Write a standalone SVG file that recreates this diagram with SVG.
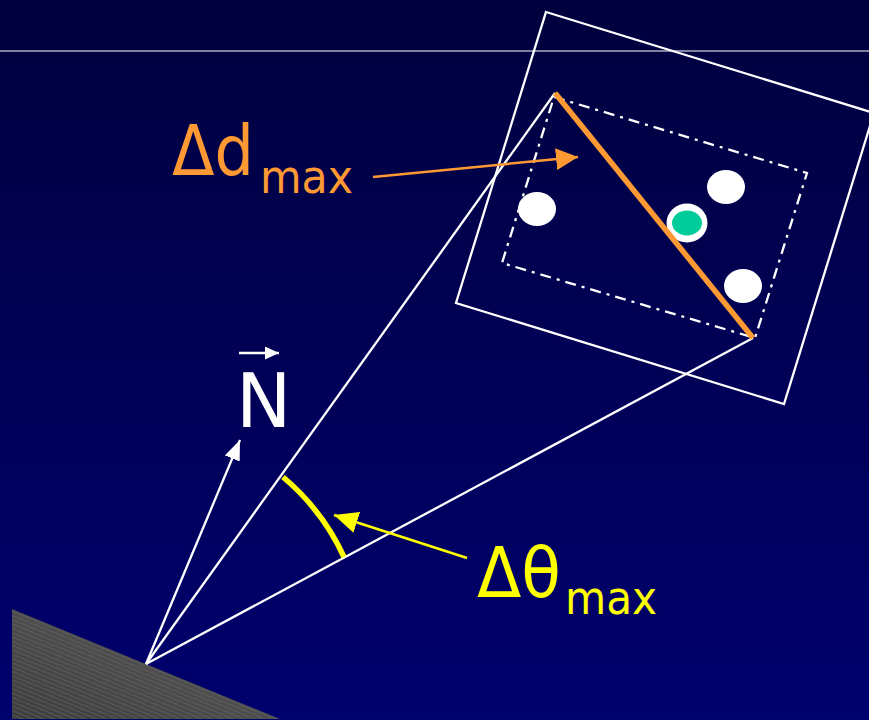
<svg xmlns="http://www.w3.org/2000/svg" width="869" height="720" viewBox="0 0 869 720">
<defs>
<linearGradient id="bg" x1="0" y1="0" x2="0" y2="1">
<stop offset="0" stop-color="#00003E"/>
<stop offset="1" stop-color="#00006E"/>
</linearGradient>
<linearGradient id="wg" x1="0" y1="1" x2="1" y2="0">
<stop offset="0" stop-color="#3c3c3c"/>
<stop offset="1" stop-color="#5e5e5e"/>
</linearGradient>
<pattern id="stripes" width="8" height="4" patternUnits="userSpaceOnUse" patternTransform="rotate(22.3)">
<rect width="8" height="1.3" fill="#6a6a6a" opacity="0.5"/>
</pattern>
<marker id="mw" viewBox="0 0 20 16" refX="20" refY="8" markerWidth="20" markerHeight="16" markerUnits="userSpaceOnUse" orient="auto">
<path d="M0,0 L20,8 L0,16 Z" fill="#ffffff"/>
</marker>
<marker id="mo" viewBox="0 0 22 22" refX="22" refY="11" markerWidth="22" markerHeight="22" markerUnits="userSpaceOnUse" orient="auto">
<path d="M0,0 L22,11 L0,22 Z" fill="#FF9933"/>
</marker>
<marker id="my" viewBox="0 0 24 22" refX="24" refY="11" markerWidth="24" markerHeight="22" markerUnits="userSpaceOnUse" orient="auto">
<path d="M0,0 L24,11 L0,22 Z" fill="#FFFF00"/>
</marker>
<marker id="mn" viewBox="0 0 14 13" refX="14" refY="6.5" markerWidth="14" markerHeight="13" markerUnits="userSpaceOnUse" orient="auto">
<path d="M0,0 L14,6.5 L0,13 Z" fill="#ffffff"/>
</marker>
</defs>
<style>
.w{fill:none;stroke:#ffffff;stroke-width:2.3}
.lbl{font-family:"DejaVu Sans","Verdana",sans-serif}
.dot{fill:#ffffff}
</style>
<rect width="869" height="720" fill="url(#bg)"/>
<line x1="0" y1="51" x2="869" y2="51" stroke="#ffffff" stroke-width="1.2"/>

<g id="surface">
<polygon points="12,609 280,719 12,719" fill="url(#wg)"/>
<polygon points="12,609 280,719 12,719" fill="url(#stripes)"/>
</g>

<g id="pixel-footprint">
<polygon points="546,12 874,113 784,404 456,303" class="w"/>
</g>
<g id="cell">
<polygon points="554,97 807,173 755,338 502,263" fill="none" stroke="#ffffff" stroke-width="2.3" stroke-dasharray="11,6,3,6"/>
</g>

<g id="points">
<ellipse cx="537" cy="209" rx="19" ry="17" class="dot"/>
<ellipse cx="726" cy="187" rx="19" ry="17" class="dot"/>
<ellipse cx="743" cy="286" rx="19" ry="17" class="dot"/>
<ellipse cx="687" cy="223" rx="20.5" ry="19.5" class="dot"/>
<ellipse cx="687" cy="223" rx="15" ry="12.5" fill="#00CC99"/>
</g>

<g id="connectors">
<line x1="146" y1="664" x2="555" y2="93" class="w"/>
<line x1="146" y1="664" x2="753" y2="338" class="w"/>
<line x1="146" y1="664" x2="240" y2="440" stroke="#ffffff" stroke-width="2.3" marker-end="url(#mw)"/>
<line x1="555" y1="93" x2="753" y2="338" stroke="#FF9933" stroke-width="5.5"/>
<line x1="373" y1="177" x2="578" y2="157" stroke="#FF9933" stroke-width="2.5" marker-end="url(#mo)"/>
<path d="M283,477 A230,230 0 0 1 344,557" fill="none" stroke="#FFFF00" stroke-width="5.5"/>
<line x1="467" y1="558" x2="334" y2="515" stroke="#FFFF00" stroke-width="2.5" marker-end="url(#my)"/>
<line x1="239" y1="353" x2="279" y2="353" stroke="#ffffff" stroke-width="2.3" marker-end="url(#mn)"/>
</g>

<g id="label-d">
<text x="172" y="175" class="lbl" font-size="70" fill="#FF9933" textLength="82" lengthAdjust="spacingAndGlyphs">Δd</text>
<text x="260" y="193" class="lbl" font-size="46" fill="#FF9933" textLength="93" lengthAdjust="spacingAndGlyphs">max</text>
</g>
<g id="label-theta">
<text x="477" y="597" class="lbl" font-size="70" fill="#FFFF00" textLength="84" lengthAdjust="spacingAndGlyphs">Δθ</text>
<text x="565" y="614" class="lbl" font-size="46" fill="#FFFF00" textLength="92" lengthAdjust="spacingAndGlyphs">max</text>
</g>
<g id="label-n">
<text x="236" y="427" class="lbl" font-size="74" fill="#ffffff">N</text>
</g>
</svg>
